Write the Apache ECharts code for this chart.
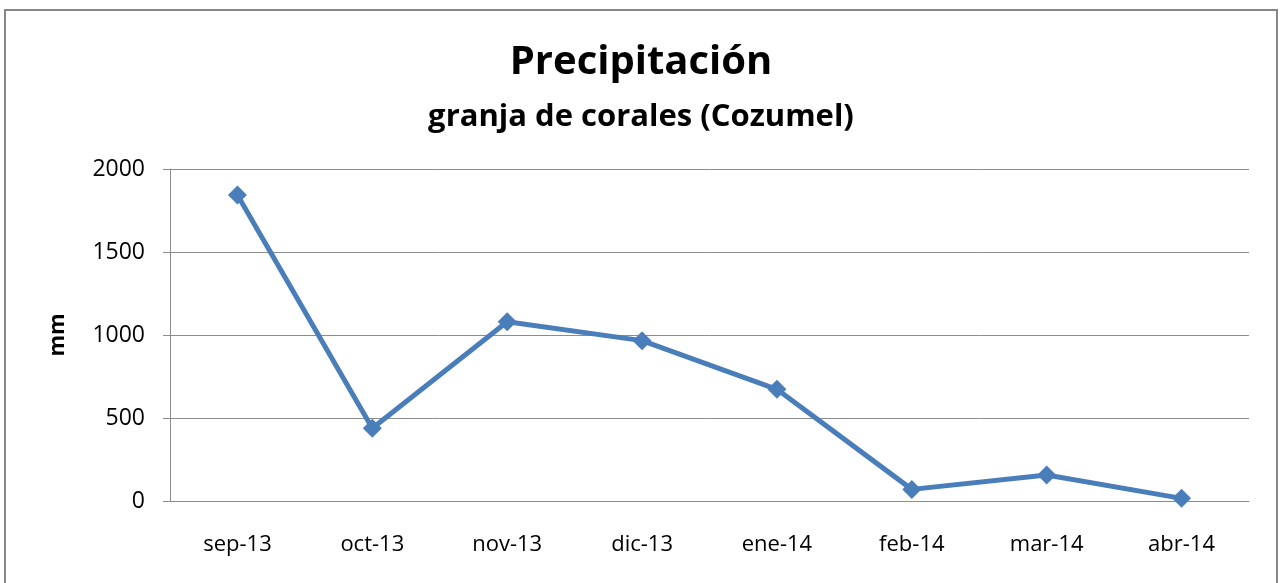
<!DOCTYPE html>
<html>
<head>
<meta charset="utf-8">
<script src="https://cdn.jsdelivr.net/npm/echarts@6/dist/echarts.min.js"></script>
<style>
  html, body { margin: 0; padding: 0; background: #fff; }
  #chart { width: 1282px; height: 583px; }
</style>
</head>
<body>
<div id="chart"></div>
<script>
// Monthly rainfall at the coral farm, Cozumel
const months = ['sep-13', 'oct-13', 'nov-13', 'dic-13', 'ene-14', 'feb-14', 'mar-14', 'abr-14'];
const rainfallMm = [1843, 438, 1080, 966, 673, 70, 157, 16];
const yTicks = [0, 500, 1000, 1500, 2000];

const FONT = '"Open Sans", Lato, sans-serif';

const chart = echarts.init(document.getElementById('chart'), null, { renderer: 'canvas' });

chart.setOption({
  backgroundColor: '#ffffff',
  animation: false,
  title: [
    {
      text: 'Precipitación',
      left: 'center',
      top: 38,
      textStyle: { fontFamily: FONT, fontWeight: 'bold', fontSize: 40, color: '#000' }
    },
    {
      text: 'granja de corales (Cozumel)',
      left: 'center',
      top: 97,
      textStyle: { fontFamily: FONT, fontWeight: 'bold', fontSize: 31, color: '#000' }
    }
  ],
  graphic: [
    {
      type: 'rect',
      shape: { x: 5, y: 10, width: 1272, height: 600 },
      style: { fill: null, stroke: '#878787', lineWidth: 2 },
      silent: true,
      z: -1
    }
  ],
  grid: { left: 170, right: 33, top: 169, bottom: 82, containLabel: false },
  xAxis: {
    type: 'category',
    data: months,
    boundaryGap: true,
    axisLine: { show: true, lineStyle: { color: '#8c8c8c', width: 1 } },
    axisTick: { show: false },
    axisLabel: { fontFamily: FONT, fontSize: 22, color: '#000', margin: 33 }
  },
  yAxis: {
    type: 'value',
    min: yTicks[0],
    max: yTicks[yTicks.length - 1],
    interval: yTicks[1] - yTicks[0],
    name: 'mm',
    nameLocation: 'middle',
    nameGap: 101,
    nameRotate: 90,
    nameTextStyle: { fontFamily: FONT, fontWeight: 'bold', fontSize: 22, color: '#000' },
    axisLine: { show: true, lineStyle: { color: '#8c8c8c', width: 1 } },
    axisTick: { show: true, inside: false, length: 7, lineStyle: { color: '#8c8c8c' } },
    axisLabel: {
      fontFamily: FONT, fontSize: 23, color: '#000', margin: 25,
      formatter: (v) => String(v)
    },
    splitLine: { show: true, lineStyle: { color: '#8c8c8c', width: 1 } }
  },
  series: [
    {
      type: 'line',
      data: rainfallMm,
      symbol: 'diamond',
      symbolSize: 19,
      lineStyle: { color: '#4a7ebb', width: 5 },
      itemStyle: { color: '#4a7ebb' },
      z: 5
    }
  ]
});
</script>
</body>
</html>
